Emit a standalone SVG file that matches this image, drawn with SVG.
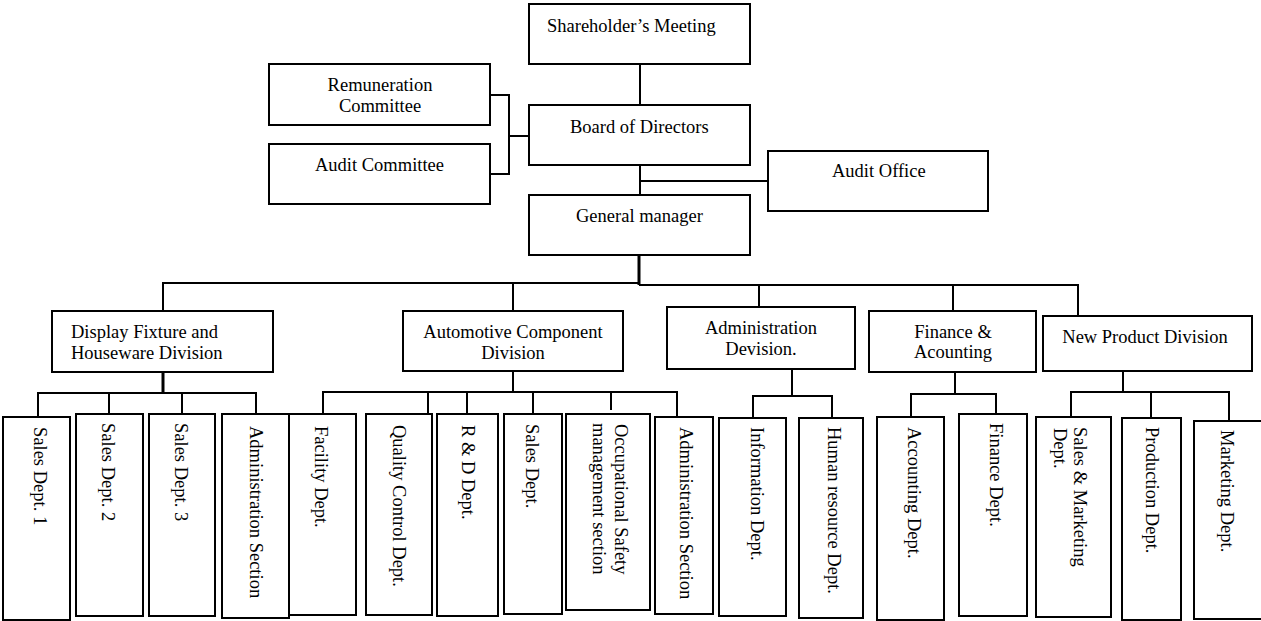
<svg xmlns="http://www.w3.org/2000/svg" width="1261" height="621" viewBox="0 0 1261 621">
<style>
rect{fill:#fff;stroke:#000;stroke-width:2}
text{font-family:"Liberation Serif","Times New Roman",serif;font-size:18.5px;fill:#000}
.c{text-anchor:middle}
#connectors path{fill:none;stroke:#000;stroke-width:2}
</style>
<rect x="0" y="0" width="1261" height="621" style="stroke:none;fill:#fff"/>
<g id="connectors">
<path d="M640 64V105"/>
<path d="M640 165V195"/>
<path d="M640 181H768"/>
<path d="M490 95H509V174H490M509 136H529"/>
<path d="M639 255V285" style="stroke-width:3"/>
<path d="M163 311V283H639M639 285H1078V316M513 283V311M759 285V307M953 285V311"/>
<path d="M163 372V393" style="stroke-width:3"/>
<path d="M38 417V393H256V414M109 393V414M182 393V414"/>
<path d="M513 371V392"/>
<path d="M323 414V392H677V417M428 392V414M467 392V414M533 392V414M611 392V410"/>
<path d="M792 369V396"/>
<path d="M753 418V396H832V418"/>
<path d="M955 372V394"/>
<path d="M911 417V394H996V414"/>
<path d="M1123 371V392"/>
<path d="M1071 418V392H1229V421M1151 392V418"/>
</g>
<g id="shareholders"><rect x="529" y="4" width="221" height="60"/><text x="547" y="32">Shareholder’s Meeting</text></g>
<g id="board"><rect x="529" y="105" width="221" height="60"/><text x="570" y="133">Board of Directors</text></g>
<g id="gm"><rect x="529" y="195" width="221" height="60"/><text x="576" y="222">General manager</text></g>
<g id="remuneration"><rect x="269" y="64" width="221" height="61"/><text class="c" x="380" y="91">Remuneration</text><text class="c" x="380" y="112">Committee</text></g>
<g id="auditcommittee"><rect x="269" y="144" width="221" height="60"/><text x="315" y="171">Audit Committee</text></g>
<g id="auditoffice"><rect x="768" y="151" width="220" height="60"/><text x="832" y="177">Audit Office</text></g>
<g id="display"><rect x="52" y="311" width="221" height="61"/><text x="71" y="338">Display Fixture and</text><text x="71" y="359">Houseware Division</text></g>
<g id="automotive"><rect x="403" y="311" width="220" height="60"/><text class="c" x="513" y="338">Automotive Component</text><text class="c" x="513" y="359">Division</text></g>
<g id="admindiv"><rect x="667" y="307" width="188" height="62"/><text class="c" x="761" y="334">Administration</text><text class="c" x="761" y="355">Devision.</text></g>
<g id="finance"><rect x="869" y="311" width="167" height="61"/><text class="c" x="953" y="338">Finance &amp;</text><text class="c" x="953" y="358">Acounting</text></g>
<g id="newproduct"><rect x="1043" y="316" width="209" height="55"/><text class="c" x="1145" y="343">New Product Division</text></g>
<g id="sales1"><rect x="3" y="417" width="67" height="203"/><text transform="translate(34 427) rotate(90)">Sales Dept. 1</text></g>
<g id="sales2"><rect x="76" y="414" width="67" height="202"/><text transform="translate(102 423) rotate(90)">Sales Dept. 2</text></g>
<g id="sales3"><rect x="149" y="414" width="66" height="202"/><text transform="translate(175 423) rotate(90)">Sales Dept. 3</text></g>
<g id="adminsec1"><rect x="222" y="414" width="67" height="204"/><text transform="translate(250 426) rotate(90)">Administration Section</text></g>
<g id="facility"><rect x="289" y="414" width="67" height="201"/><text transform="translate(315 426) rotate(90)">Facility Dept.</text></g>
<g id="quality"><rect x="366" y="414" width="66" height="201"/><text transform="translate(393 425) rotate(90)">Quality Control Dept.</text></g>
<g id="rnd"><rect x="437" y="414" width="61" height="202"/><text transform="translate(462 425) rotate(90)">R &amp; D Dept.</text></g>
<g id="salesdept"><rect x="504" y="414" width="58" height="200"/><text transform="translate(526 424) rotate(90)">Sales Dept.</text></g>
<g id="occupational"><rect x="566" y="414" width="84" height="196"/><text transform="translate(615 424) rotate(90)">Occupational Safety</text><text transform="translate(593 423) rotate(90)">management section</text></g>
<g id="adminsec2"><rect x="655" y="417" width="58" height="197"/><text transform="translate(680 427) rotate(90)">Administration Section</text></g>
<g id="information"><rect x="719" y="418" width="67" height="198"/><text transform="translate(751 427) rotate(90)">Information Dept.</text></g>
<g id="hr"><rect x="799" y="418" width="64" height="200"/><text transform="translate(828 427) rotate(90)">Human resource Dept.</text></g>
<g id="accounting"><rect x="877" y="417" width="67" height="203"/><text transform="translate(908 427) rotate(90)">Accounting Dept.</text></g>
<g id="financedept"><rect x="959" y="414" width="68" height="202"/><text transform="translate(990 423) rotate(90)">Finance Dept.</text></g>
<g id="salesmkt"><rect x="1036" y="417" width="75" height="200"/><text transform="translate(1074 427) rotate(90)">Sales &amp; Marketing</text><text transform="translate(1054 428) rotate(90)">Dept.</text></g>
<g id="production"><rect x="1122" y="418" width="59" height="202"/><text transform="translate(1146 427) rotate(90)">Production Dept.</text></g>
<g id="marketing"><rect x="1194" y="421" width="80" height="198"/><text transform="translate(1221 430) rotate(90)">Marketing Dept.</text></g>
</svg>
